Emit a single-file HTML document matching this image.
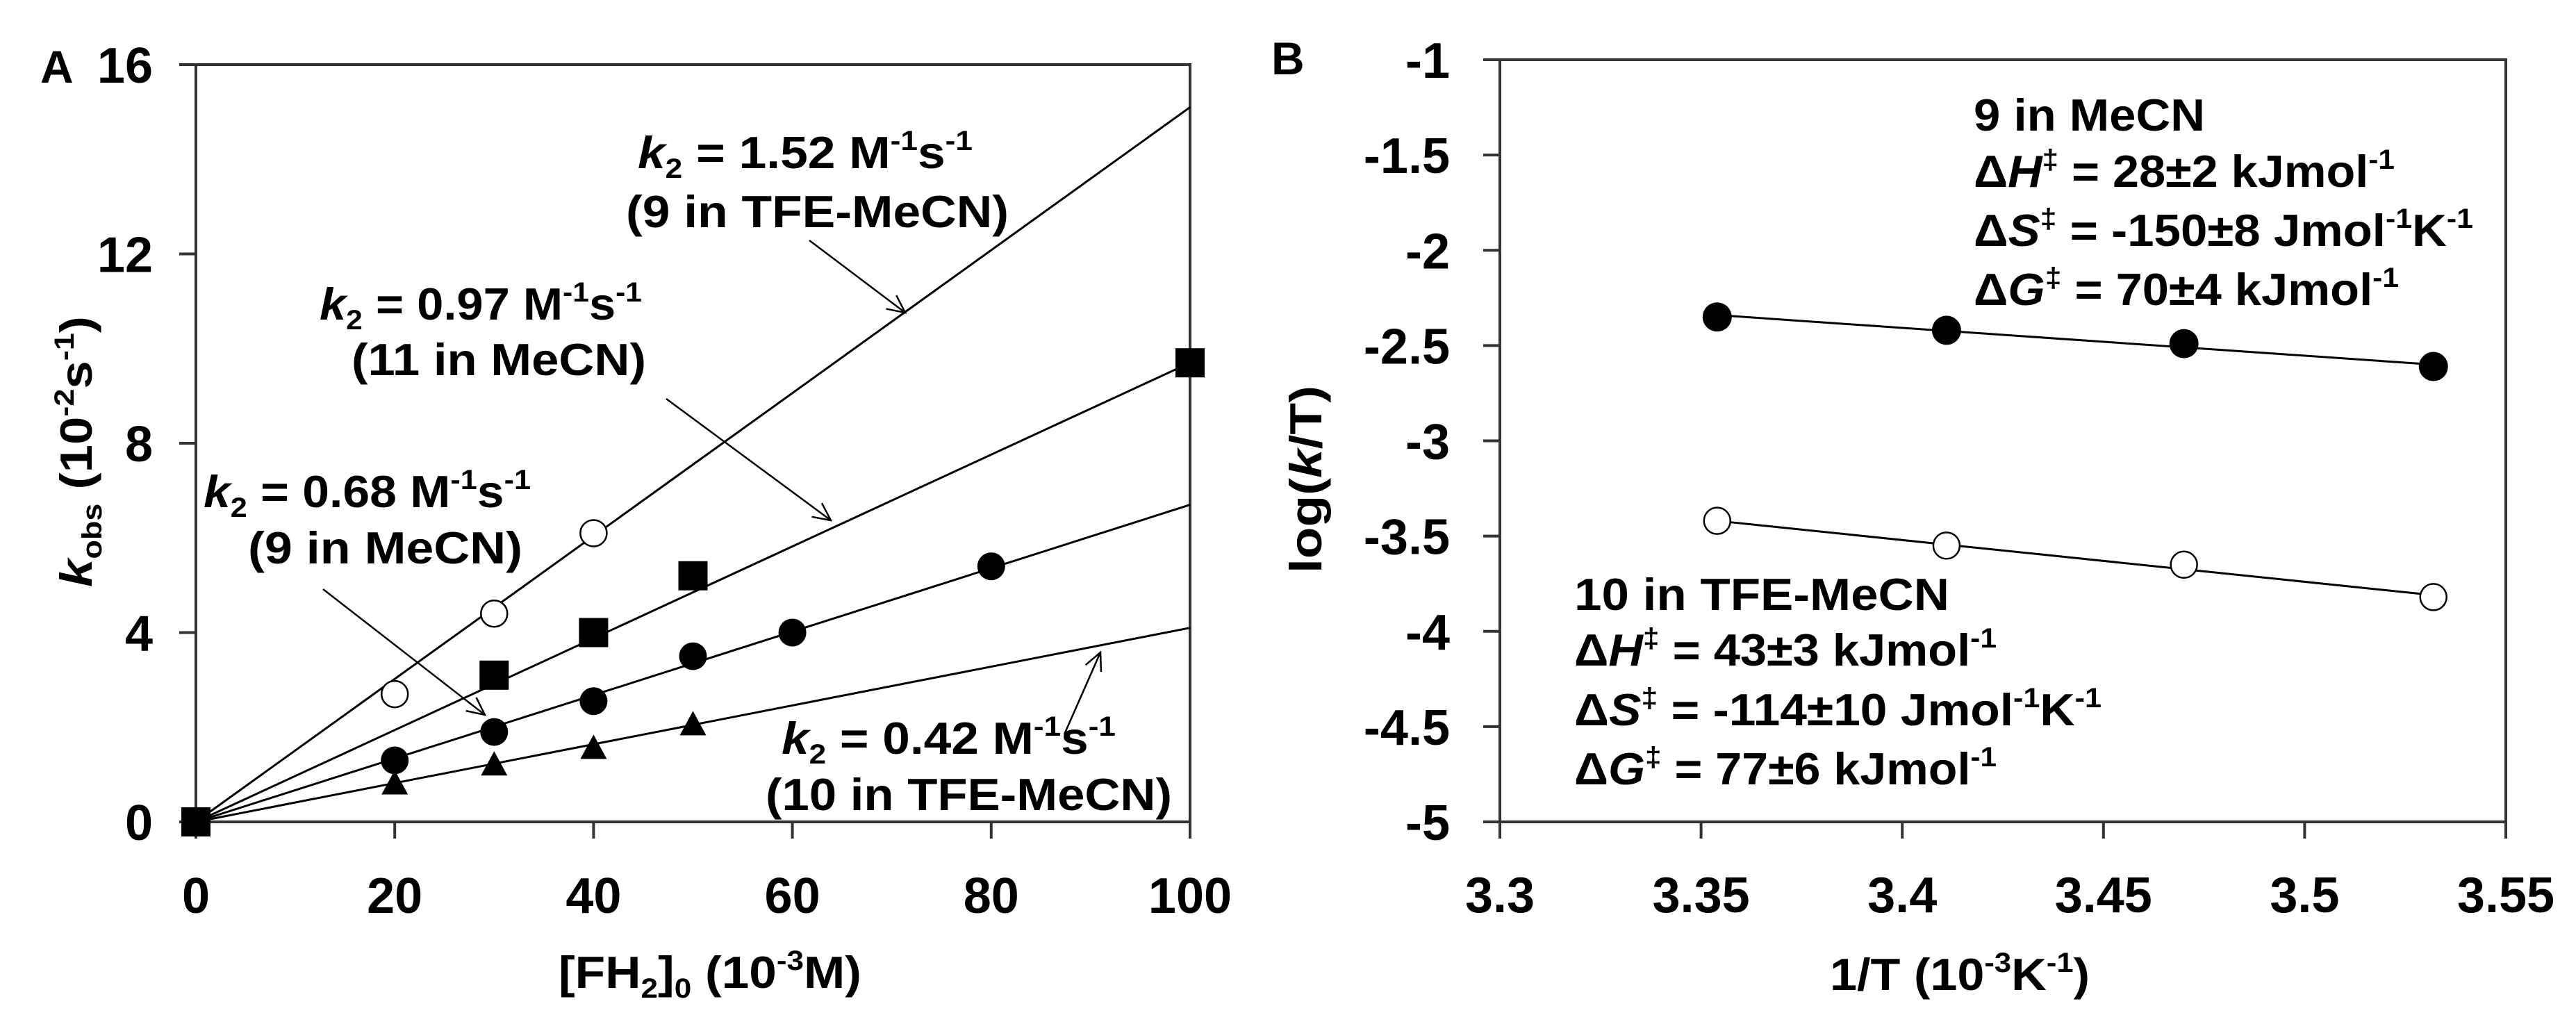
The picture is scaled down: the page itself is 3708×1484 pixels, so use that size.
<!DOCTYPE html>
<html><head><meta charset="utf-8"><style>
html,body{margin:0;padding:0;background:#fff;}
svg{display:block;font-family:"Liberation Sans",Arial,sans-serif;font-weight:bold;}
</style></head><body>
<svg id="fig" width="3708" height="1484" viewBox="0 0 3708 1484" xmlns="http://www.w3.org/2000/svg">
<rect width="3708" height="1484" fill="#fff"/>
<g id="panelA"></g>
<g id="panelB"></g>
</svg>
<script>
// ---------- Panel A data ----------
const aXTicks = [0, 20, 40, 60, 80, 100];
const aYTicks = [0, 4, 8, 12, 16];
const aOpenX = [20, 30, 40];
const aOpenY = [2.7, 4.4, 6.1];
const aSquareX = [0, 30, 40, 50, 100];
const aSquareY = [0, 3.1, 4.0, 5.2, 9.7];
const aCircleX = [20, 30, 40, 50, 60, 80];
const aCircleY = [1.3, 1.9, 2.55, 3.5, 4.0, 5.4];
const aTriX = [20, 30, 40, 50];
const aTriY = [0.8, 1.2, 1.55, 2.05];
const aSlopes = [0.151, 0.097, 0.067, 0.041];
// ---------- Panel B data ----------
const bXTicks = [3.3, 3.35, 3.4, 3.45, 3.5, 3.55];
const bXTickLabels = ["3.3", "3.35", "3.4", "3.45", "3.5", "3.55"];
const bYTicks = [-1, -1.5, -2, -2.5, -3, -3.5, -4, -4.5, -5];
const bYTickLabels = ["-1", "-1.5", "-2", "-2.5", "-3", "-3.5", "-4", "-4.5", "-5"];
const bX = [3.354, 3.411, 3.470, 3.532];
const bFilledY = [-2.35, -2.42, -2.49, -2.61];
const bOpenY = [-3.42, -3.55, -3.65, -3.82];
const bFilledFit = [-2.34, -2.60];
const bOpenFit = [-3.42, -3.81];

const NS = "http://www.w3.org/2000/svg";
function mk(parent, tag, attrs) {
  const e = document.createElementNS(NS, tag);
  for (const k in attrs) e.setAttribute(k, attrs[k]);
  parent.appendChild(e);
  return e;
}
const A = document.getElementById("panelA");
const B = document.getElementById("panelB");

// axis functions
const aL = 282, aR = 1713, aT = 93, aB = 1183;
const ax = v => aL + (v - 0) / 100 * (aR - aL);
const ay = v => aB - v / 16 * (aB - aT);
const bL = 2159, bR = 3607, bT = 86, bBt = 1183;
const bx = v => bL + (v - 3.3) / 0.25 * (bR - bL);
const by = v => bT + (-1 - v) / 4 * (bBt - bT);

const AX = "#333";
function frame(g, L, R, T, Bt) {
  const r = mk(g, "rect", {x: L, y: T, width: R - L, height: Bt - T, fill: "none", stroke: AX, "stroke-width": 4});
  
  
}
frame(A, aL, aR, aT, aB);
frame(B, bL, bR, bT, bBt);

// Panel A ticks
aXTicks.forEach(v => {
  const t = mk(A, "line", {x1: ax(v), y1: aB, x2: ax(v), y2: aB + 24, stroke: AX, "stroke-width": 4});
  
  
  const l = mk(A, "text", {x: ax(v), y: 1314, "font-size": 72, "text-anchor": "middle"});
  l.textContent = String(v);
  
  
});
aYTicks.forEach(v => {
  const t = mk(A, "line", {x1: aL - 24, y1: ay(v), x2: aL, y2: ay(v), stroke: AX, "stroke-width": 4});
  
  
  const l = mk(A, "text", {x: 220, y: ay(v) + 26, "font-size": 72, "text-anchor": "end"});
  l.textContent = String(v);
  
  
});
// Panel A fit lines
aSlopes.forEach(s => {
  const ln = mk(A, "line", {x1: ax(0), y1: ay(0), x2: ax(100), y2: ay(s * 100), stroke: "#000", "stroke-width": 3});
  
  
});
// markers
aOpenX.forEach((v, i) => {
  const c = mk(A, "circle", {cx: ax(v), cy: ay(aOpenY[i]), r: 19, fill: "#fff", stroke: "#000", "stroke-width": 2.5});
  
  
});
aSquareX.forEach((v, i) => {
  const c = mk(A, "rect", {x: ax(v) - 21, y: ay(aSquareY[i]) - 21, width: 42, height: 42, fill: "#000"});
  
  
});
aCircleX.forEach((v, i) => {
  const c = mk(A, "circle", {cx: ax(v), cy: ay(aCircleY[i]), r: 20, fill: "#000"});
  
  
});
aTriX.forEach((v, i) => {
  const x = ax(v), y = ay(aTriY[i]);
  const c = mk(A, "polygon", {points: `${x},${y - 20} ${x + 19},${y + 15} ${x - 19},${y + 15}`, fill: "#000"});
  
  
});

// text helper with sub/sup parts
function rich(g, x, y, parts, len, name, size) {
  const t = mk(g, "text", {x: x, y: y, "font-size": size || 65, textLength: len, lengthAdjust: "spacingAndGlyphs"});
  parts.forEach(p => {
    const s = mk(t, "tspan", {});
    s.textContent = p[0];
    if (p[1] === "i") s.setAttribute("font-style", "italic");
    if (p[1] === "sub") { s.setAttribute("font-size", (size || 65) * 0.62); s.setAttribute("dy", 14); }
    if (p[1] === "sup") { s.setAttribute("font-size", (size || 65) * 0.62); s.setAttribute("dy", -26); }
    if (p[2]) s.setAttribute("dy", p[2]);
  });
  
  
  return t;
}
function k2(g, x, y, val, len, name) {
  rich(g, x, y, [["k", "i"], ["2", "sub"], [" = " + val + " M", "", -14], ["-1", "sup"], ["s", "", 26], ["-1", "sup"]], len, name);
}
k2(A, 918, 242, "1.52", 482, "k2-label-9-tfe");
rich(A, 901, 327, [["(9 in TFE-MeCN)"]], 551, "k2-sublabel-9-tfe");
k2(A, 460, 460, "0.97", 464, "k2-label-11-mecn");
rich(A, 506, 540, [["(11 in MeCN)"]], 424, "k2-sublabel-11-mecn");
k2(A, 293, 730, "0.68", 471, "k2-label-9-mecn");
rich(A, 357, 811, [["(9 in MeCN)"]], 395, "k2-sublabel-9-mecn");
k2(A, 1125, 1085, "0.42", 481, "k2-label-10-tfe");
rich(A, 1102, 1166, [["(10 in TFE-MeCN)"]], 585, "k2-sublabel-10-tfe");

// arrows
function arrow(g, x1, y1, x2, y2, name) {
  const gg = mk(g, "g", {});
  
  
  mk(gg, "line", {x1, y1, x2, y2, stroke: "#000", "stroke-width": 2.5});
  const a = Math.atan2(y2 - y1, x2 - x1), L = 28, w = 0.45;
  mk(gg, "polyline", {points: `${x2 - L * Math.cos(a - w)},${y2 - L * Math.sin(a - w)} ${x2},${y2} ${x2 - L * Math.cos(a + w)},${y2 - L * Math.sin(a + w)}`, fill: "none", stroke: "#000", "stroke-width": 2.5});
}
arrow(A, 1165, 346, 1303, 450, "arrow-9-tfe");
arrow(A, 959, 574, 1196, 749, "arrow-11-mecn");
arrow(A, 465, 848, 698, 1029, "arrow-9-mecn");
arrow(A, 1532, 1057, 1584, 939, "arrow-10-tfe");

// Panel A titles
const pa = mk(A, "text", {x: 58, y: 119, "font-size": 66}); pa.textContent = "A";


const yt = rich(A, 0, 0, [["k", "i"], ["obs", "sub"], ["  (10", "", -14], ["-2", "sup"], ["s", "", 26], ["-1", "sup"], [")", "", 26]], 390, "y-axis-title-a");
yt.setAttribute("transform", "translate(132,845) rotate(-90)");
rich(A, 804, 1422, [["[FH"], ["2", "sub"], ["]", "", -14], ["0", "sub"], [" (10", "", -14], ["-3", "sup"], ["M)", "", 26]], 436, "x-axis-title-a");

// Panel B ticks
bXTicks.forEach((v, i) => {
  const t = mk(B, "line", {x1: bx(v), y1: bBt, x2: bx(v), y2: bBt + 24, stroke: AX, "stroke-width": 4});
  
  
  const l = mk(B, "text", {x: bx(v), y: 1313, "font-size": 72, "text-anchor": "middle"});
  l.textContent = bXTickLabels[i];
  
  
});
bYTicks.forEach((v, i) => {
  const t = mk(B, "line", {x1: bL - 24, y1: by(v), x2: bL, y2: by(v), stroke: AX, "stroke-width": 4});
  
  
  const l = mk(B, "text", {x: 2087, y: by(v) + 26, "font-size": 72, "text-anchor": "end"});
  l.textContent = bYTickLabels[i];
  
  
});
// fits
[[bFilledFit, "fit-line-9-mecn"], [bOpenFit, "fit-line-10-tfe"]].forEach(([f, n]) => {
  const ln = mk(B, "line", {x1: bx(bX[0]), y1: by(f[0]), x2: bx(bX[bX.length - 1]), y2: by(f[1]), stroke: "#000", "stroke-width": 3});
  
  
});
bX.forEach((v, i) => {
  const c = mk(B, "circle", {cx: bx(v), cy: by(bFilledY[i]), r: 21, fill: "#000"});
  
  
  const o = mk(B, "circle", {cx: bx(v), cy: by(bOpenY[i]), r: 19, fill: "#fff", stroke: "#000", "stroke-width": 2.5});
  
  
});
// annotations B
rich(B, 2841, 188, [["9 in MeCN"]], 333, "label-9-mecn");
rich(B, 2841, 269, [["Δ"], ["H", "i"], ["‡", "sup"], [" = 28±2 kJmol", "", 26], ["-1", "sup"]], 606, "dh-9-mecn");
rich(B, 2841, 354, [["Δ"], ["S", "i"], ["‡", "sup"], [" = -150±8 Jmol", "", 26], ["-1", "sup"], ["K", "", 26], ["-1", "sup"]], 719, "ds-9-mecn");
rich(B, 2841, 439, [["Δ"], ["G", "i"], ["‡", "sup"], [" = 70±4 kJmol", "", 26], ["-1", "sup"]], 612, "dg-9-mecn");
rich(B, 2266, 878, [["10 in TFE-MeCN"]], 540, "label-10-tfe");
rich(B, 2266, 958, [["Δ"], ["H", "i"], ["‡", "sup"], [" = 43±3 kJmol", "", 26], ["-1", "sup"]], 608, "dh-10-tfe");
rich(B, 2266, 1044, [["Δ"], ["S", "i"], ["‡", "sup"], [" = -114±10 Jmol", "", 26], ["-1", "sup"], ["K", "", 26], ["-1", "sup"]], 759, "ds-10-tfe");
rich(B, 2266, 1129, [["Δ"], ["G", "i"], ["‡", "sup"], [" = 77±6 kJmol", "", 26], ["-1", "sup"]], 608, "dg-10-tfe");

const pb = mk(B, "text", {x: 1830, y: 107, "font-size": 66}); pb.textContent = "B";


const ybt = rich(B, 0, 0, [["log("], ["k", "i"], ["/T)"]], 270, "y-axis-title-b");
ybt.setAttribute("transform", "translate(1902,825) rotate(-90)");
rich(B, 2634, 1425, [["1/T (10"], ["-3", "sup"], ["K", "", 26], ["-1", "sup"], [")", "", 26]], 374, "x-axis-title-b");
</script>
</body></html>
